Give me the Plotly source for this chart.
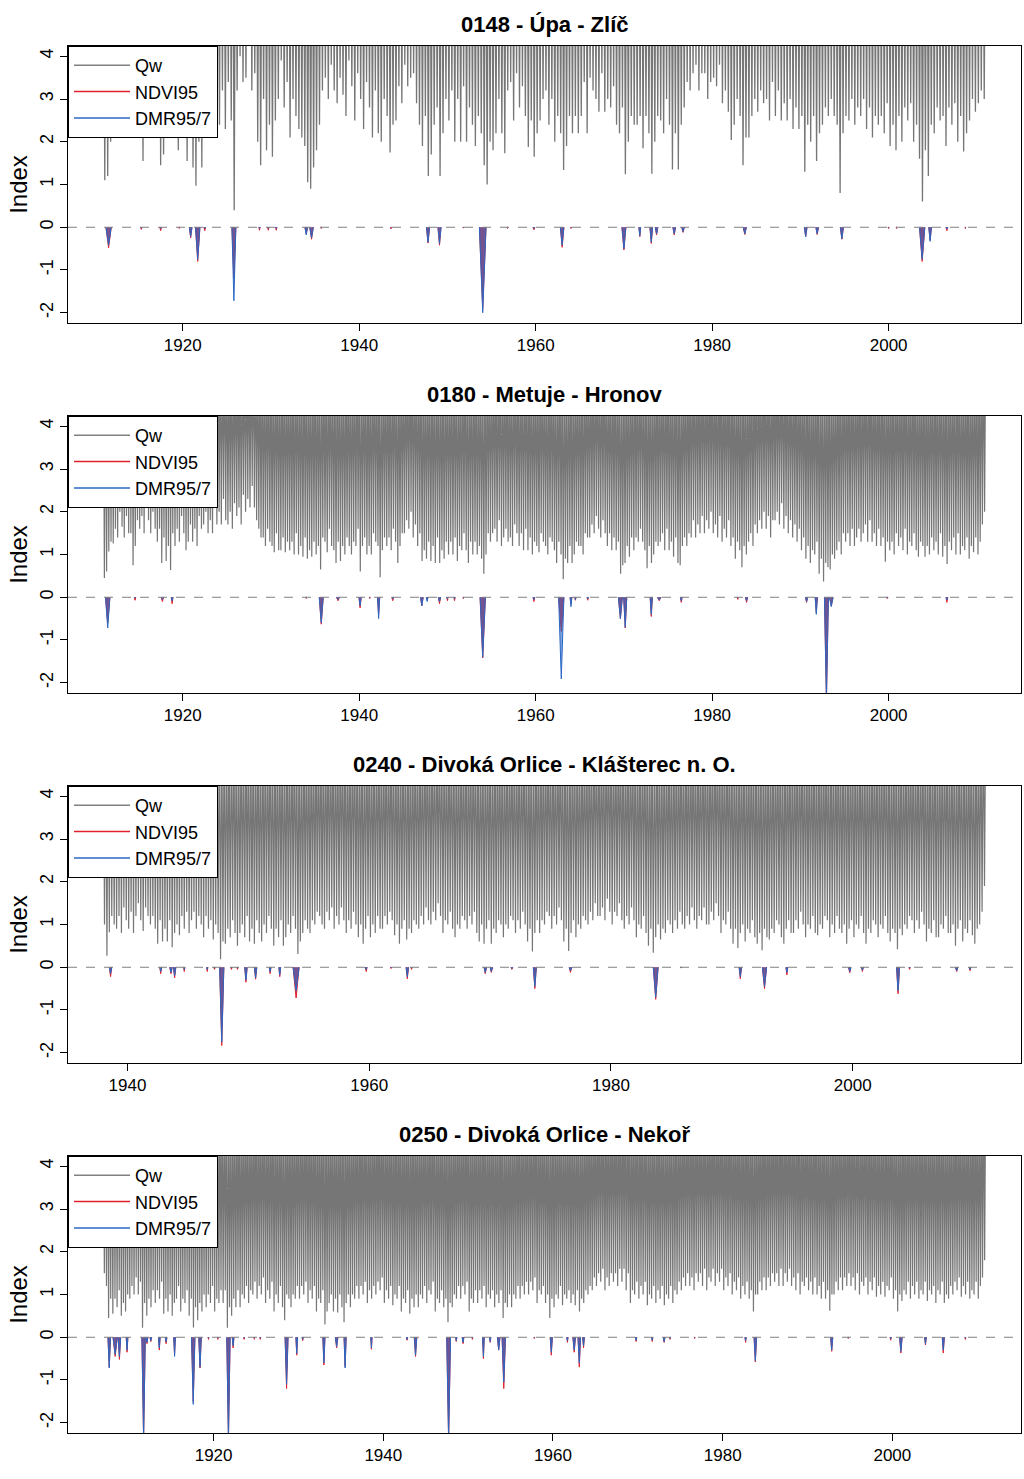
import plotly.graph_objects as go

# ------------------------------------------------------------------ data
titles = ["0148 - Úpa - Zlíč",
          "0180 - Metuje - Hronov",
          "0240 - Divoká Orlice - Klášterec n. O.",
          "0250 - Divoká Orlice - Nekoř"]

series_names = ["Qw", "NDVI95", "DMR95/7"]

y_tickvals = [-2, -1, 0, 1, 2, 3, 4]
y_ticktext = ["-2", "-1", "0", "1", "2", "3", "4"]

# Qw: first year of record, sampled troughs per year, and the (off-scale) crest level
qw_start = [1911, 1911, 1938, 1907]
qw_per_year = [3, 4, 5, 4]
qw_peak = [9.0, 6.0, 6.0, 6.0]

# troughs of Qw, year by year (values > 4.24 lie above the plotted range)
qw_0148 = [
    1.1, 1.2, 2.0,  3.0, 2.5, 3.5,  2.8, 3.5, 2.6,  3.0, 2.5, 2.8,  3.0, 1.55, 2.6,   # 1911-15
    2.5, 3.0, 2.4,  2.8, 1.45, 1.7, 3.0, 2.6, 2.4,  2.6, 1.8, 3.0,  2.4, 1.55, 2.8,   # 1916-20
    1.4, 0.97, 2.0, 1.4, 2.5, 3.0,  2.6, 2.1, 3.0,  2.4, 3.2, 2.3,  3.4, 2.5, 0.4,    # 1921-25
    3.2, 4.0, 3.4,  3.5, 5.0, 3.2,  3.6, 2.0, 1.45, 3.0, 1.8, 2.4,  1.65, 2.5, 3.0,   # 1926-30
    3.9, 2.8, 3.4,  2.1, 3.0, 2.6,  2.3, 2.1, 1.9,  1.05, 0.9, 1.4, 1.8, 2.4, 3.2,    # 1931-35
    3.5, 3.0, 3.8,  3.2, 2.9, 3.5,  3.1, 2.6, 3.9,  3.3, 2.5, 3.6,  3.0, 2.3, 3.4,    # 1936-40
    2.8, 2.1, 3.2,  2.2, 2.0, 3.0,  2.6, 1.75, 2.4, 2.5, 3.3, 2.9,  3.8, 3.3, 3.5,    # 1941-45
    3.6, 2.9, 2.4,  1.9, 2.6, 1.2,  1.7, 2.4, 2.8,  1.2, 2.2, 3.0,  2.5, 3.2, 2.0,    # 1946-50
    3.0, 2.0, 3.3,  2.0, 2.8, 2.4,  1.9, 2.6, 2.2,  1.45, 1.0, 2.0, 1.8, 2.2, 3.0,    # 1951-55
    2.2, 1.73, 3.2, 3.4, 2.5, 3.6,  2.8, 3.3, 2.6,  1.88, 2.5, 1.65, 2.2, 2.5, 3.0,   # 1956-60
    3.2, 2.4, 3.0,  2.0, 2.6, 2.2,  1.34, 1.9, 2.6, 2.2, 2.6, 2.2,  2.6, 3.4, 2.2,    # 1961-65
    3.5, 3.2, 3.0,  2.7, 3.6, 2.7,  3.0, 2.8, 3.3,  2.4, 2.2, 2.8,  1.24, 2.0, 2.6,   # 1966-70
    2.4, 2.4, 2.6,  1.85, 2.6, 2.2, 1.25, 2.0, 2.6, 2.5, 2.2, 3.0,  2.4, 1.35, 2.2,   # 1971-75
    1.35, 2.4, 2.8, 3.4, 3.2, 3.6,  3.8, 3.2, 3.6,  3.6, 3.0, 3.4,  3.5, 3.3, 3.8,    # 1976-80
    2.9, 3.2, 2.7,  2.04, 2.4, 3.0, 2.6, 1.45, 2.1, 2.1, 2.6, 3.0,  2.7, 3.2, 2.9,    # 1981-85
    3.0, 2.5, 3.4,  2.6, 3.2, 2.5,  2.9, 2.5, 3.0,  2.3, 2.8, 2.3,  2.6, 1.3, 2.4,    # 1986-90
    2.0, 2.6, 1.55, 2.2, 2.4, 2.8,  2.6, 3.0, 2.6,  2.4, 0.8, 2.2,  2.6, 2.5, 3.0,    # 1991-95
    2.4, 2.8, 2.6,  3.0, 2.3, 2.8,  2.1, 2.6, 2.4,  2.6, 2.2, 2.9,  1.9, 2.4, 1.8,    # 1996-2000
    2.6, 2.0, 2.8,  2.5, 2.9, 2.0,  2.4, 1.6, 0.6,  1.8, 1.2, 2.4,  2.2, 2.8, 2.5,    # 2001-05
    2.6, 1.9, 2.8,  2.4, 2.9, 2.0,  2.6, 1.77, 2.2, 2.5, 3.0, 2.7,  2.9, 3.2, 3.0,    # 2006-10
]

qw_0180 = [
    0.45, 0.6, 1.07, 1.3,  1.26, 1.6, 1.4, 2.0,  1.65, 1.4, 1.9, 1.5,  1.5, 0.75, 1.2, 1.8,  1.6, 1.9, 1.5, 2.2,   # 1911-15
    1.8, 1.5, 2.0, 1.6,  1.3, 1.6, 0.8, 1.4,  0.85, 1.2, 0.64, 1.5,  1.2, 1.6, 1.3, 1.9,  1.5, 1.1, 1.3, 1.7,     # 1916-20
    1.3, 1.6, 1.2, 1.9,  1.6, 1.7, 2.0, 1.5,  1.8, 1.5, 2.2, 1.7,  2.0, 1.7, 2.3, 1.8,  1.7, 2.0, 1.6, 2.2,       # 1921-25
    1.9, 2.1, 1.7, 2.4,  2.0, 2.3, 2.1, 2.6,  2.1, 1.8, 1.6, 1.4,  1.4, 1.2, 1.6, 1.3,  1.2, 1.05, 1.5, 1.1,      # 1926-30
    1.1, 1.4, 1.05, 1.3,  1.1, 1.3, 1.0, 1.5,  1.0, 1.2, 0.95, 1.4,  0.9, 1.1, 0.95, 1.3,  1.0, 1.2, 0.65, 1.4,  # 1931-35
    1.3, 1.05, 1.6, 1.2,  1.1, 0.8, 1.3, 0.85,  1.2, 1.0, 1.4, 1.2,  1.0, 1.3, 1.2, 1.6,  0.6, 1.2, 1.4, 1.0,    # 1936-40
    1.2, 1.0, 1.5, 1.3,  1.2, 0.47, 1.1, 1.4,  1.2, 1.4, 1.1, 1.6,  1.3, 0.8, 1.2, 1.5,  1.5, 1.8, 1.6, 2.0,     # 1941-45
    1.4, 1.7, 1.2, 1.5,  0.85, 1.1, 0.9, 1.3,  0.85, 1.2, 0.8, 1.4,  0.8, 1.1, 0.9, 1.3,  1.0, 1.3, 1.0, 1.4,   # 1946-50
    0.85, 1.2, 1.1, 1.5,  1.1, 0.8, 1.3, 1.0,  1.3, 1.0, 1.2, 0.9,  0.55, 1.0, 1.5, 1.3,  1.5, 1.6, 1.3, 1.8,   # 1951-55
    1.2, 1.4, 1.6, 1.3,  1.4, 1.2, 1.7, 1.5,  1.2, 1.5, 1.1, 1.6,  1.1, 1.4, 1.0, 1.3,  1.2, 1.05, 1.5, 1.3,    # 1956-60
    1.2, 1.0, 1.4, 1.3,  1.1, 0.8, 1.3, 1.0,  0.42, 0.9, 0.8, 1.2,  0.8, 1.0, 1.3, 1.2,  1.2, 1.0, 1.5, 1.4,    # 1961-65
    1.4, 1.7, 1.5, 1.9,  1.6, 1.4, 1.8, 1.5,  1.2, 1.5, 1.1, 1.4,  1.1, 1.3, 0.55, 0.75,  0.8, 1.2, 0.95, 1.4,  # 1966-70
    1.1, 1.4, 1.3, 1.6,  1.3, 1.1, 0.68, 1.2,  0.8, 1.0, 1.3, 1.2,  1.3, 1.5, 1.1, 1.6,  1.1, 1.3, 0.95, 1.4,   # 1971-75
    0.8, 0.75, 1.2, 1.4,  1.2, 1.5, 1.4, 1.8,  1.4, 1.7, 1.5, 1.9,  1.5, 1.8, 1.6, 2.0,  1.5, 1.7, 1.4, 1.9,    # 1976-80
    1.3, 1.6, 1.4, 1.8,  1.2, 1.4, 0.9, 1.3,  1.1, 0.7, 1.2, 1.0,  1.3, 1.5, 1.2, 1.7,  1.5, 1.8, 1.6, 2.0,     # 1981-85
    1.6, 1.9, 1.4, 1.8,  1.8, 2.0, 1.7, 2.2,  1.6, 1.9, 1.5, 1.8,  1.4, 1.7, 1.3, 1.6,  1.1, 1.4, 0.9, 1.2,     # 1986-90
    0.8, 1.1, 1.0, 1.3,  0.55, 0.9, 0.37, 0.8,  0.7, 0.65, 1.0, 0.9,  1.1, 1.3, 1.0, 1.5,  1.3, 1.5, 1.2, 1.6,  # 1991-95
    1.2, 1.4, 1.6, 1.3,  1.5, 1.7, 1.3, 1.8,  1.3, 1.5, 1.2, 1.6,  1.2, 1.4, 0.83, 1.3,  1.1, 1.3, 1.0, 1.5,    # 1996-2000
    1.2, 1.4, 1.1, 1.6,  1.0, 1.3, 1.2, 1.5,  1.1, 0.95, 1.3, 1.2,  0.95, 1.2, 1.0, 1.4,  1.1, 1.3, 1.0, 1.5,   # 2001-05
    0.95, 1.2, 0.78, 1.3,  1.1, 1.4, 1.0, 1.5,  1.0, 1.2, 1.1, 1.4,  0.9, 1.2, 1.05, 1.4,  1.0, 1.3, 1.7, 2.0, # 2006-10
]

qw_0240 = [
    1.0, 0.27, 0.82, 1.2, 1.0,   0.9, 1.2, 0.8, 1.4, 1.1,    # 1938-39
    0.9, 1.3, 0.8, 1.2, 1.5,     1.1, 0.85, 1.4, 1.2, 1.0,   # 1940-41
    1.2, 0.9, 0.55, 1.1, 0.6,    0.9, 0.6, 1.1, 0.47, 0.8,   # 1942-43
    1.0, 0.75, 1.2, 0.9, 1.3,    0.8, 1.1, 1.3, 0.9, 1.2,    # 1944-45
    1.0, 0.7, 1.2, 0.9, 1.1,     0.65, 1.0, 0.8, 0.19, 0.6,  # 1946-47
    0.55, 0.9, 0.7, 1.1, 0.8,    0.5, 0.8, 1.0, 0.7, 1.2,    # 1948-49
    0.6, 0.9, 0.55, 1.1, 0.8,    0.6, 1.0, 0.8, 1.2, 0.9,    # 1950-51
    0.5, 0.9, 0.7, 1.1, 0.5,     0.7, 1.0, 0.8, 1.2, 0.9,    # 1952-53
    0.31, 0.6, 0.8, 1.1, 0.9,    0.8, 1.1, 1.0, 1.3, 1.2,    # 1954-55
    1.0, 0.9, 1.3, 1.1, 1.4,     0.9, 1.2, 1.0, 1.4, 1.1,    # 1956-57
    0.8, 1.1, 0.9, 1.3, 1.0,     0.7, 1.0, 0.55, 0.9, 1.2,   # 1958-59
    0.7, 1.0, 0.8, 1.2, 0.9,     0.9, 1.2, 1.0, 1.3, 1.1,    # 1960-61
    0.75, 1.0, 0.55, 0.9, 1.1,   0.65, 0.9, 0.8, 1.1, 1.0,   # 1962-63
    0.9, 1.2, 1.0, 1.4, 1.1,     1.0, 1.3, 1.1, 1.5, 1.2,    # 1964-65
    0.8, 1.1, 1.0, 1.3, 0.9,     0.7, 1.0, 0.9, 1.2, 1.1,    # 1966-67
    0.9, 1.2, 1.0, 1.3, 0.8,     0.6, 1.0, 0.55, 0.9, 1.1,   # 1968-69
    0.55, 0.9, 0.8, 1.1, 1.0,    0.7, 1.0, 0.9, 1.2, 1.1,    # 1970-71
    0.8, 1.1, 0.9, 1.3, 1.0,     0.6, 0.9, 0.37, 0.8, 1.1,   # 1972-73
    0.8, 1.1, 1.0, 1.3, 1.2,     0.9, 1.2, 1.0, 1.4, 1.1,    # 1974-75
    0.6, 0.9, 0.38, 0.8, 1.1,    0.7, 1.0, 0.9, 1.2, 1.1,    # 1976-77
    1.0, 1.3, 1.1, 1.5, 1.2,     1.2, 1.4, 1.1, 1.6, 1.3,    # 1978-79
    1.0, 1.3, 1.2, 1.5, 1.1,     0.9, 1.2, 1.0, 1.4, 1.1,    # 1980-81
    0.7, 1.0, 0.9, 1.2, 0.8,     0.5, 0.9, 0.34, 0.7, 1.0,   # 1982-83
    0.65, 0.9, 0.8, 1.1, 1.0,    0.8, 1.1, 0.9, 1.3, 1.0,    # 1984-85
    0.9, 1.2, 1.0, 1.4, 1.1,     0.9, 1.2, 1.1, 1.4, 1.0,    # 1986-87
    1.0, 1.3, 1.1, 1.5, 1.2,     0.8, 1.1, 1.0, 1.3, 0.9,    # 1988-89
    0.55, 0.9, 0.45, 0.8, 1.0,   0.6, 0.9, 0.8, 1.1, 0.7,    # 1990-91
    0.55, 0.8, 0.4, 0.9, 0.7,    0.65, 0.9, 0.8, 1.1, 1.0,   # 1992-93
    0.7, 0.55, 0.9, 1.1, 0.8,    0.8, 1.1, 0.9, 1.3, 1.0,    # 1994-95
    0.7, 1.0, 0.9, 1.2, 0.8,     0.75, 1.0, 0.9, 1.2, 1.1,   # 1996-97
    0.7, 1.0, 0.8, 1.2, 0.9,     0.8, 1.0, 0.55, 0.9, 1.1,   # 1998-99
    0.7, 1.0, 0.9, 1.2, 0.8,     0.55, 0.9, 0.8, 1.1, 1.0,   # 2000-01
    0.7, 1.0, 0.9, 1.2, 0.8,     0.6, 0.9, 0.8, 0.42, 0.9,   # 2002-03
    0.75, 1.0, 0.9, 1.2, 1.1,    0.8, 1.1, 0.9, 1.3, 1.0,    # 2004-05
    0.6, 0.9, 0.8, 1.1, 0.7,     0.7, 1.0, 0.9, 1.2, 0.8,    # 2006-07
    0.8, 1.0, 0.5, 0.9, 1.1,     0.6, 0.9, 0.8, 1.1, 0.75,   # 2008-09
    0.55, 0.9, 1.0, 1.3, 1.9,                                # 2010
]

qw_0250 = [
    1.5, 1.2, 0.45, 0.9,  0.55, 0.9, 0.7, 1.1,  0.5, 0.8, 0.6, 1.0,    # 1907-09
    0.9, 1.2, 1.0, 1.4,   1.0, 1.3, 0.22, 0.8,  0.5, 0.9, 0.7, 1.1,    # 1910-12
    0.8, 1.1, 0.9, 1.3,   0.55, 0.9, 0.6, 1.0,  0.5, 0.8, 0.9, 1.2,    # 1913-15
    0.6, 0.9, 0.8, 1.1,   0.5, 0.9, 0.23, 0.7,  0.4, 0.8, 0.6, 1.0,    # 1916-18
    0.7, 1.0, 0.8, 1.2,   0.6, 0.9, 0.8, 1.1,   0.8, 1.1, 0.22, 0.7,   # 1919-21
    0.5, 0.9, 0.7, 1.1,   0.7, 1.0, 0.9, 1.2,   0.8, 1.1, 1.0, 1.3,    # 1922-24
    0.9, 1.2, 1.0, 1.4,   0.8, 1.1, 0.9, 1.3,   0.6, 1.0, 0.8, 1.2,    # 1925-27
    0.7, 0.4, 1.0, 0.9,   0.7, 1.0, 0.9, 1.2,   0.9, 1.2, 1.0, 1.3,    # 1928-30
    0.8, 1.1, 0.9, 1.2,   0.6, 0.9, 0.8, 1.1,   0.3, 0.6, 0.8, 1.0,    # 1931-33
    0.6, 0.9, 0.58, 1.0,  0.7, 0.35, 0.8, 1.0,  0.7, 1.0, 0.9, 1.2,    # 1934-36
    0.9, 1.2, 1.0, 1.3,   0.8, 1.1, 0.9, 1.2,   1.0, 1.3, 1.1, 1.4,    # 1937-39
    0.8, 1.1, 0.9, 1.2,   0.75, 1.0, 0.9, 1.2,  0.6, 0.9, 0.8, 1.1,    # 1940-42
    0.55, 0.9, 0.7, 1.0,  0.7, 1.0, 0.9, 1.2,   0.8, 1.1, 1.0, 1.3,    # 1943-45
    0.6, 0.9, 0.8, 1.1,   0.7, 0.9, 0.35, 0.8,  0.7, 1.0, 0.9, 1.2,    # 1946-48
    0.9, 1.2, 1.0, 1.3,   0.6, 0.9, 0.8, 1.1,   0.8, 1.1, 0.9, 1.2,    # 1949-51
    0.7, 1.0, 0.9, 1.1,   0.7, 1.0, 0.8, 1.1,   0.45, 0.8, 0.7, 1.0,   # 1952-54
    0.7, 1.0, 0.9, 1.2,   0.9, 1.2, 1.0, 1.3,   1.0, 1.3, 1.1, 1.4,    # 1955-57
    0.8, 1.1, 1.0, 1.2,   0.8, 1.0, 0.45, 0.9,  0.7, 1.0, 0.9, 1.2,    # 1958-60
    0.75, 1.0, 0.9, 1.1,  0.8, 1.0, 0.75, 1.1,  0.6, 0.9, 0.8, 1.1,    # 1961-63
    1.0, 1.2, 1.1, 1.4,   1.2, 1.5, 1.3, 1.6,   1.1, 1.4, 1.2, 1.5,    # 1964-66
    1.3, 1.5, 1.2, 1.6,   1.3, 1.6, 1.1, 1.5,   0.8, 1.1, 1.0, 1.3,    # 1967-69
    0.9, 1.2, 1.0, 1.3,   0.75, 1.0, 0.9, 1.2,  0.8, 1.1, 0.9, 1.2,    # 1970-72
    0.75, 1.0, 0.9, 1.2,  0.8, 1.1, 1.0, 1.3,   1.1, 1.4, 1.2, 1.5,    # 1973-75
    1.2, 1.4, 1.1, 1.5,   1.3, 1.5, 1.2, 1.6,   1.1, 1.4, 1.3, 1.6,    # 1976-78
    1.2, 1.5, 1.3, 1.6,   1.1, 1.4, 1.2, 1.5,   1.0, 1.3, 1.1, 1.4,    # 1979-81
    0.9, 1.2, 1.0, 1.3,   0.9, 1.1, 0.6, 1.0,   1.0, 1.3, 1.1, 1.4,    # 1982-84
    1.1, 1.4, 1.2, 1.5,   1.3, 1.5, 1.2, 1.6,   1.2, 1.5, 1.3, 1.6,    # 1985-87
    1.2, 1.4, 1.1, 1.5,   1.0, 1.3, 1.2, 1.4,   1.1, 1.3, 1.0, 1.4,    # 1988-90
    1.0, 1.2, 0.9, 1.3,   0.9, 1.1, 0.62, 1.0,  1.0, 1.3, 1.1, 1.4,    # 1991-93
    1.1, 1.4, 1.2, 1.5,   1.2, 1.4, 1.1, 1.5,   1.0, 1.3, 1.2, 1.4,    # 1994-96
    1.0, 1.3, 1.1, 1.4,   0.95, 1.2, 1.0, 1.3,  0.95, 1.2, 1.1, 1.4,   # 1997-99
    0.9, 1.1, 0.6, 1.0,   0.85, 1.1, 1.0, 1.3,  0.9, 1.2, 1.0, 1.3,    # 2000-02
    0.9, 1.1, 1.0, 1.3,   0.85, 1.1, 1.0, 1.2,  0.8, 1.1, 1.0, 1.3,    # 2003-05
    0.8, 1.0, 0.9, 1.2,   1.0, 1.3, 1.1, 1.4,   0.95, 1.2, 1.0, 1.3,   # 2006-08
    0.9, 1.1, 1.0, 1.3,   0.9, 1.2, 1.4, 1.8,                          # 2009-10
]

# drought events: centre time, duration (years), NDVI95 deficit, DMR95/7 deficit
p1_t    = [1911.6, 1915.3, 1917.5, 1919.6, 1920.9, 1921.7, 1922.5, 1925.8, 1928.7, 1929.7,
           1930.6, 1934.0, 1934.6, 1935.7, 1943.6, 1947.8, 1949.1, 1951.8, 1954.0, 1956.8,
           1959.8, 1963.0, 1964.0, 1970.0, 1971.8, 1973.1, 1973.7, 1975.7, 1976.7, 1983.7,
           1990.6, 1991.9, 1994.7, 2000.0, 2000.9, 2003.8, 2004.7, 2006.6, 2008.7]
p1_w    = [0.6, 0.15, 0.2, 0.1, 0.3, 0.5, 0.2, 0.45, 0.15, 0.15,
           0.15, 0.3, 0.4, 0.1, 0.1, 0.35, 0.35, 0.1, 0.75, 0.1,
           0.2, 0.4, 0.1, 0.45, 0.2, 0.3, 0.3, 0.3, 0.3, 0.35,
           0.3, 0.3, 0.35, 0.1, 0.1, 0.6, 0.3, 0.2, 0.1]
p1_ndvi = [-0.48, -0.05, -0.08, -0.03, -0.25, -0.8, -0.08, -1.2, -0.07, -0.07,
           -0.07, -0.15, -0.28, -0.03, -0.04, -0.37, -0.42, -0.02, -1.9, -0.03,
           -0.06, -0.47, -0.03, -0.53, -0.22, -0.38, -0.18, -0.18, -0.12, -0.17,
           -0.22, -0.17, -0.28, -0.03, -0.03, -0.8, -0.3, -0.08, -0.03]
p1_dmr  = [-0.42, -0.02, -0.03, -0.01, -0.22, -0.75, -0.03, -1.72, -0.03, -0.03,
           -0.03, -0.18, -0.25, -0.01, -0.01, -0.35, -0.38, -0.01, -2.0, -0.01,
           -0.03, -0.42, -0.01, -0.5, -0.2, -0.35, -0.15, -0.15, -0.1, -0.15,
           -0.22, -0.15, -0.27, -0.01, -0.01, -0.75, -0.33, -0.04, -0.01]

p2_t    = [1911.5, 1914.6, 1917.7, 1918.8, 1934.0, 1935.7, 1937.6, 1940.1, 1941.2, 1942.2,
           1943.8, 1947.1, 1947.7, 1949.1, 1950.0, 1950.8, 1951.8, 1954.0, 1959.8, 1962.9,
           1964.0, 1964.5, 1965.9, 1969.6, 1970.15, 1973.1, 1974.0, 1976.5, 1982.9, 1983.9,
           1990.7, 1991.8, 1992.95, 1993.5, 1999.85, 2006.6]
p2_w    = [0.5, 0.15, 0.25, 0.2, 0.1, 0.45, 0.35, 0.25, 0.1, 0.25,
           0.2, 0.3, 0.2, 0.25, 0.15, 0.15, 0.1, 0.6, 0.2, 0.6,
           0.2, 0.15, 0.15, 0.45, 0.35, 0.25, 0.4, 0.2, 0.15, 0.25,
           0.25, 0.25, 0.45, 0.4, 0.15, 0.2]
p2_ndvi = [-0.6, -0.07, -0.1, -0.15, -0.03, -0.63, -0.08, -0.25, -0.03, -0.4,
           -0.08, -0.2, -0.05, -0.15, -0.08, -0.08, -0.03, -1.42, -0.1, -0.8,
           -0.15, -0.07, -0.07, -0.5, -0.72, -0.45, -0.08, -0.12, -0.05, -0.12,
           -0.12, -0.35, -2.4, -0.2, -0.03, -0.12]
p2_dmr  = [-0.72, -0.02, -0.05, -0.08, -0.01, -0.6, -0.05, -0.2, -0.01, -0.5,
           -0.04, -0.2, -0.1, -0.1, -0.04, -0.04, -0.01, -1.4, -0.05, -1.91,
           -0.22, -0.05, -0.04, -0.5, -0.7, -0.4, -0.06, -0.08, -0.02, -0.08,
           -0.1, -0.4, -2.4, -0.22, -0.01, -0.06]

p3_t    = [1938.6, 1942.75, 1943.6, 1943.9, 1944.7, 1946.6, 1947.2, 1947.8, 1948.6, 1949.1,
           1949.8, 1950.6, 1951.8, 1952.6, 1953.95, 1959.75, 1961.8, 1963.15, 1963.5, 1969.6,
           1970.1, 1971.8, 1973.7, 1976.65, 1983.7, 1985.8, 1990.7, 1992.7, 1994.55, 1999.75,
           2000.8, 2003.75, 2004.7, 2008.6, 2009.7]
p3_w    = [0.2, 0.15, 0.2, 0.2, 0.1, 0.1, 0.1, 0.35, 0.1, 0.1,
           0.2, 0.2, 0.15, 0.15, 0.5, 0.15, 0.1, 0.2, 0.1, 0.2,
           0.2, 0.15, 0.25, 0.2, 0.4, 0.1, 0.2, 0.35, 0.15, 0.2,
           0.15, 0.25, 0.1, 0.2, 0.15]
p3_ndvi = [-0.22, -0.15, -0.15, -0.25, -0.1, -0.1, -0.05, -1.83, -0.05, -0.05,
           -0.35, -0.28, -0.15, -0.22, -0.72, -0.1, -0.03, -0.27, -0.05, -0.15,
           -0.12, -0.05, -0.5, -0.12, -0.75, -0.02, -0.27, -0.5, -0.18, -0.13,
           -0.1, -0.62, -0.05, -0.1, -0.08]
p3_dmr  = [-0.15, -0.1, -0.12, -0.2, -0.05, -0.05, -0.02, -1.75, -0.02, -0.02,
           -0.3, -0.25, -0.1, -0.18, -0.55, -0.05, -0.01, -0.22, -0.02, -0.12,
           -0.1, -0.03, -0.45, -0.08, -0.7, -0.01, -0.22, -0.45, -0.12, -0.1,
           -0.07, -0.55, -0.02, -0.08, -0.05]

p4_t    = [1907.7, 1908.4, 1908.9, 1909.8, 1911.75, 1912.15, 1912.6, 1913.6, 1914.4, 1915.4,
           1917.6, 1918.4, 1919.4, 1920.5, 1921.75, 1922.3, 1923.6, 1924.8, 1925.5, 1928.6,
           1929.8, 1930.5, 1933.0, 1934.5, 1935.5, 1938.6, 1942.8, 1943.8, 1947.7, 1948.6,
           1949.4, 1950.5, 1951.8, 1952.6, 1953.6, 1954.2, 1957.8, 1959.8, 1961.7, 1962.5,
           1963.1, 1963.6, 1969.8, 1971.7, 1973.1, 1973.8, 1976.7, 1982.7, 1983.85, 1992.85,
           1994.8, 1999.8, 2001.0, 2003.9, 2006.0, 2008.6]
p4_w    = [0.3, 0.5, 0.3, 0.2, 0.4, 0.2, 0.2, 0.2, 0.2, 0.2,
           0.4, 0.3, 0.1, 0.1, 0.4, 0.2, 0.1, 0.1, 0.1, 0.35,
           0.2, 0.15, 0.25, 0.3, 0.25, 0.15, 0.15, 0.3, 0.45, 0.15,
           0.2, 0.1, 0.2, 0.15, 0.3, 0.4, 0.1, 0.25, 0.15, 0.3,
           0.3, 0.2, 0.15, 0.15, 0.2, 0.1, 0.1, 0.15, 0.3, 0.25,
           0.1, 0.15, 0.3, 0.2, 0.25, 0.1]
p4_ndvi = [-0.7, -0.45, -0.52, -0.35, -2.4, -0.15, -0.1, -0.3, -0.15, -0.4,
           -1.5, -0.72, -0.05, -0.05, -2.4, -0.25, -0.05, -0.05, -0.05, -1.2,
           -0.42, -0.08, -0.65, -0.25, -0.68, -0.28, -0.07, -0.45, -2.4, -0.1,
           -0.15, -0.05, -0.5, -0.12, -0.3, -1.2, -0.03, -0.42, -0.12, -0.35,
           -0.7, -0.25, -0.1, -0.1, -0.12, -0.05, -0.03, -0.12, -0.58, -0.33,
           -0.03, -0.07, -0.37, -0.18, -0.37, -0.05]
p4_dmr  = [-0.72, -0.4, -0.45, -0.3, -2.4, -0.12, -0.08, -0.25, -0.1, -0.45,
           -1.57, -0.7, -0.02, -0.02, -2.4, -0.2, -0.02, -0.02, -0.02, -1.1,
           -0.38, -0.05, -0.6, -0.22, -0.72, -0.25, -0.05, -0.42, -2.4, -0.08,
           -0.12, -0.02, -0.45, -0.1, -0.3, -1.05, -0.01, -0.35, -0.08, -0.3,
           -0.6, -0.2, -0.07, -0.07, -0.1, -0.03, -0.01, -0.08, -0.55, -0.3,
           -0.01, -0.04, -0.33, -0.15, -0.3, -0.02]

qw_data = [qw_0148, qw_0180, qw_0240, qw_0250]
ev_t = [p1_t, p2_t, p3_t, p4_t]
ev_w = [p1_w, p2_w, p3_w, p4_w]
ev_ndvi = [p1_ndvi, p2_ndvi, p3_ndvi, p4_ndvi]
ev_dmr = [p1_dmr, p2_dmr, p3_dmr, p4_dmr]

# ------------------------------------------------------------------ styling / layout
W, H = 1024, 1479
PLOT_L, PLOT_R = 68, 1021
PANEL_TOP = [46, 416, 786, 1156]
PANEL_H = 277
TITLE_Y = [24, 394, 764, 1134]
FONT = "Liberation Sans, Arial, Helvetica, sans-serif"
GRAY = "#767676"
RED = "#e2202c"
BLUE = "#2a68c4"
QW_WIDTH = [1.3, 1.2, 1.2, 1.2]


def qw_xy(start, k, peak, dips):
    xs, ys = [], []
    for j, d in enumerate(dips):
        xs += [start + j / k, start + (j + 0.5) / k]
        ys += [peak, d]
    xs.append(start + len(dips) / k)
    ys.append(peak)
    return xs, ys


def event_xy(ts, ws, vs):
    xs, ys = [], []
    for t, w, v in zip(ts, ws, vs):
        xs += [t - w / 2, t, t + w / 2, None]
        ys += [0, v, 0, None]
    return xs, ys


fig = go.Figure()
layout = dict(width=W, height=H, paper_bgcolor="white", plot_bgcolor="white",
              margin=dict(l=0, r=0, t=0, b=0, autoexpand=False),
              font=dict(family=FONT, color="black"),
              shapes=[], annotations=[])

for i in range(4):
    sfx = "" if i == 0 else str(i + 1)
    xref, yref = "x" + sfx, "y" + sfx
    leg = "legend" + sfx

    qx, qy = qw_xy(qw_start[i], qw_per_year[i], qw_peak[i], qw_data[i])
    fig.add_trace(go.Scatter(x=qx, y=qy, mode="lines", line=dict(color=GRAY, width=QW_WIDTH[i]),
                             xaxis=xref, yaxis=yref, showlegend=False, hoverinfo="skip"))

    rx, ry = event_xy(ev_t[i], ev_w[i], ev_ndvi[i])
    fig.add_trace(go.Scatter(x=rx, y=ry, mode="lines", fill="toself",
                             fillcolor="rgba(226,32,44,0.9)", line=dict(color=RED, width=1),
                             xaxis=xref, yaxis=yref, showlegend=False, hoverinfo="skip"))
    bx, by = event_xy(ev_t[i], ev_w[i], ev_dmr[i])
    fig.add_trace(go.Scatter(x=bx, y=by, mode="lines", fill="toself",
                             fillcolor="rgba(42,104,196,0.6)", line=dict(color=BLUE, width=1),
                             xaxis=xref, yaxis=yref, showlegend=False, hoverinfo="skip"))

    # legend entries (line keys)
    for name, col in zip(series_names, ["#808080", RED, BLUE]):
        fig.add_trace(go.Scatter(x=[None], y=[None], mode="lines", name=name,
                                 line=dict(color=col, width=1.5), xaxis=xref, yaxis=yref,
                                 legend=leg, showlegend=True))

    # axis range (R style 4 % padding around the record)
    t0 = qw_start[i]
    t1 = qw_start[i] + len(qw_data[i]) / qw_per_year[i]
    pad = 0.04 * (t1 - t0)

    top = 1 - PANEL_TOP[i] / H
    bot = 1 - (PANEL_TOP[i] + PANEL_H) / H
    layout["xaxis" + sfx] = dict(domain=[PLOT_L / W, PLOT_R / W], range=[t0 - pad, t1 + pad],
                                 anchor=yref, tick0=1900, dtick=20, ticks="outside", ticklen=7,
                                 tickcolor="black", showline=True, mirror=True, linecolor="black",
                                 linewidth=1, showgrid=False, zeroline=False, automargin=False,
                                 tickfont=dict(size=17, family=FONT))
    layout["yaxis" + sfx] = dict(domain=[bot, top], range=[-2.24, 4.24], anchor=xref,
                                 tickmode="array", tickvals=y_tickvals, ticktext=y_ticktext,
                                 ticks="outside", ticklen=7, tickcolor="black",
                                 tickangle=-90, showline=True, mirror=True, linecolor="black",
                                 linewidth=1, showgrid=False, zeroline=False, automargin=False,
                                 tickfont=dict(size=18, family=FONT),
                                 title=dict(text="Index", font=dict(size=24, family=FONT),
                                            standoff=2))
    layout[leg] = dict(x=PLOT_L / W, y=top, xanchor="left", yanchor="top",
                       bgcolor="white", bordercolor="black", borderwidth=1,
                       font=dict(size=18, family=FONT), tracegroupgap=0, itemwidth=56)
    layout["shapes"].append(dict(type="line", xref=xref + " domain", yref=yref, x0=0, x1=1,
                                 y0=0, y1=0, line=dict(color="#808080", width=1, dash="dash")))
    layout["annotations"].append(dict(text="<b>" + titles[i] + "</b>", x=(PLOT_L + PLOT_R) / 2 / W,
                                      y=1 - TITLE_Y[i] / H, xref="paper", yref="paper",
                                      xanchor="center", yanchor="middle", showarrow=False,
                                      font=dict(size=22, family=FONT)))

fig.update_layout(**layout)
fig.write_html("out.html", config={"displayModeBar": False},
               post_script="document.body.style.margin='0';")
